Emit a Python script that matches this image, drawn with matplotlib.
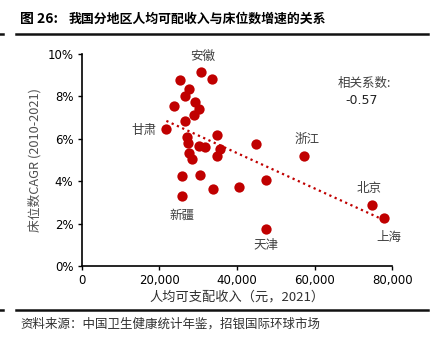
import numpy as np
import matplotlib
matplotlib.use("Agg")
import matplotlib.pyplot as plt
from matplotlib.ticker import FuncFormatter

plt.rcParams['font.family'] = ['Noto Sans CJK SC', 'DejaVu Sans']

# Per-capita disposable income (yuan, 2021) and hospital bed CAGR (%, 2010-2021) by province
income = [30750, 33660, 25410, 27650, 26540, 29120, 30310, 23710, 28870, 26620,
          21810, 34950, 27140, 27400, 30310, 31860, 35640, 34870, 27660, 28430,
          25770, 30570, 33920, 40460, 25770, 44920, 57370, 47420, 47420, 74740,
          77840]
bed_cagr = [9.14, 8.84, 8.76, 8.35, 8.03, 7.73, 7.40, 7.54, 7.12, 6.86,
            6.44, 6.18, 6.07, 5.82, 5.66, 5.63, 5.51, 5.20, 5.32, 5.05,
            4.24, 4.30, 3.61, 3.72, 3.29, 5.76, 5.20, 4.05, 1.75, 2.88,
            2.27]
names = ['安徽', '', '', '', '', '', '', '', '', '',
         '甘肃', '', '', '', '', '', '', '', '', '',
         '', '', '', '', '新疆', '', '浙江', '', '天津', '北京',
         '上海']
# label offsets in pixels relative to the marker
label_offsets = {'安徽': (2, 16), '甘肃': (-22, -1), '新疆': (0, -19),
                 '天津': (0, -17), '浙江': (3, 16), '北京': (-3, 16),
                 '上海': (5, -20)}
xticks = [0, 20000, 40000, 60000, 80000]
yticks = [0, 2, 4, 6, 8, 10]
corr_text = '-0.57'

W, H = 437, 346
fig = plt.figure(figsize=(W / 100, H / 100), dpi=100)
ax = fig.add_axes([81.7 / W, 1 - 266 / H, (392.3 - 81.7) / W, (266 - 54) / H])

red = '#C00000'
x = np.array(income, dtype=float)
y = np.array(bed_cagr, dtype=float)
ax.scatter(x, y, s=55, color=red, zorder=3, linewidths=0)

# linear trend line across the income range
k, b = np.polyfit(x, y, 1)
xs = np.array([x.min(), x.max()])
ax.plot(xs, k * xs + b, linestyle=(0, (1, 1.6)), color=red, lw=1.6, zorder=4)

gray = '#404040'
for xi, yi, nm in zip(x, y, names):
    if nm:
        dx, dy = label_offsets[nm]
        ax.annotate(nm, (xi, yi), xytext=(dx, dy), textcoords='offset pixels',
                    ha='center', va='center', fontsize=9, color=gray)

ax.text(0.995, 0.86, '相关系数:', transform=ax.transAxes, ha='right', va='center',
        fontsize=9, color=gray)
ax.text(0.955, 0.78, corr_text, transform=ax.transAxes, ha='right', va='center',
        fontsize=9, color='#222222', family='DejaVu Sans')

ax.set_xlim(0, 80000)
ax.set_ylim(0, 10)
ax.set_xticks(xticks)
ax.set_yticks(yticks)
ax.xaxis.set_major_formatter(FuncFormatter(lambda v, p: f'{int(v):,}'))
ax.yaxis.set_major_formatter(FuncFormatter(lambda v, p: f'{int(v)}%'))
for lab in ax.get_xticklabels() + ax.get_yticklabels():
    lab.set_family('DejaVu Sans')
    lab.set_fontsize(8.5)
ax.tick_params(axis='both', direction='out', length=3, width=1, colors='black', pad=3)
ax.spines['top'].set_visible(False)
ax.spines['right'].set_visible(False)
ax.spines['left'].set_linewidth(1.2)
ax.spines['bottom'].set_linewidth(1.2)

ax.set_ylabel('床位数CAGR (2010-2021)', fontsize=9.2, color='#505050', labelpad=4)
ax.set_xlabel('人均可支配收入（元，2021）', fontsize=9.5, color='#303030', labelpad=2)

# title, rules and source note
fig.text(20 / W, 1 - 19 / H, '图 26:', fontsize=10, fontweight='bold',
         family=['Noto Sans CJK SC', 'DejaVu Sans'], ha='left', va='center')
fig.text(69 / W, 1 - 19 / H, '我国分地区人均可配收入与床位数增速的关系', fontsize=9.3,
         fontweight='bold', ha='left', va='center')
for yy in (34, 310):
    fig.add_artist(plt.Line2D([16 / W, 428 / W], [1 - yy / H, 1 - yy / H],
                              color='#111111', lw=1.8))
    fig.add_artist(plt.Line2D([0, 3 / W], [1 - yy / H, 1 - yy / H],
                              color='#111111', lw=1.8))
fig.text(20 / W, 1 - 324 / H, '资料来源：中国卫生健康统计年鉴，招银国际环球市场',
         fontsize=9, color='#303030', ha='left', va='center')

fig.savefig('out.png', dpi=100)
